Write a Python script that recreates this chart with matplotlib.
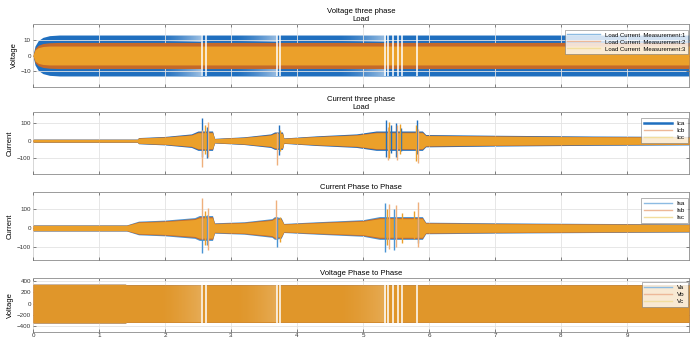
import numpy as np
import matplotlib
matplotlib.use("Agg")
import matplotlib.pyplot as plt
from matplotlib.lines import Line2D

# ---------------- data ----------------
# Panel 1: Voltage three phase / Load  -> envelope amplitudes of each measurement
v_load_t = [0.0, 0.03, 0.08, 0.15, 0.25, 0.4, 9.94]
v_load_m1 = [0.0, 6.0, 9.5, 11.5, 12.6, 13.0, 13.0]
v_load_m2 = [0.0, 4.5, 6.5, 7.6, 8.1, 8.3, 8.3]
v_load_m3 = [0.0, 3.5, 5.0, 5.7, 6.0, 6.0, 6.0]
gap_t = [2.556, 2.621, 3.69, 3.74, 5.33, 5.38, 5.46, 5.53, 5.59, 5.82]
# stretches where the blue trace thins out before the gaps (start, end)
fade_t0 = [1.90, 3.05, 4.60]
fade_t1 = [2.55, 3.69, 5.33]

# Panel 2: Current three phase / Load -> band envelope and transient spikes
i_load_t = [0, 1.58, 1.6, 2.0, 2.4, 2.5, 2.72, 2.75, 3.2, 3.6, 3.66, 3.78, 3.8,
            4.3, 4.9, 5.2, 5.9, 5.95, 7.0, 8.5, 9.94]
i_load_a = [8, 8, 16, 22, 35, 50, 50, 12, 20, 35, 45, 45, 14,
            25, 35, 50, 50, 32, 28, 24, 22]
ica_spk_t = [2.556, 2.63, 3.72, 5.35, 5.42, 5.50, 5.58, 5.82]
ica_spk_lo = [-92, -100, -83, -92, -70, -95, -60, -80]
ica_spk_hi = [129, 81, 91, 120, 90, 100, 75, 120]
icb_spk_t = [2.56, 2.656, 3.70, 5.38, 5.52, 5.84]
icb_spk_lo = [-150, -92, -140, -111, -111, -130]
icb_spk_hi = [60, 110, 50, 80, 90, 70]
icc_spk_t = [2.60, 3.74, 5.40, 5.56, 5.80]
icc_spk_lo = [-80, -60, -100, -80, -120]
icc_spk_hi = [90, 60, 110, 95, 90]

# Panel 3: Current Phase to Phase
i_pp_t = [0, 1.42, 1.6, 2.0, 2.45, 2.52, 2.72, 2.75, 3.2, 3.62, 3.66, 3.76, 3.8,
          4.3, 5.0, 5.25, 5.9, 5.95, 7.0, 8.5, 9.94]
i_pp_a = [15, 15, 33, 38, 50, 60, 60, 25, 30, 45, 55, 50, 22,
          30, 40, 55, 55, 28, 25, 22, 20]
isa_spk_t = [2.565, 2.64, 3.69, 5.33, 5.47, 5.84]
isa_spk_lo = [-133, -90, -100, -126, -117, -80]
isa_spk_hi = [60, 70, 60, 131, 100, 60]
isb_spk_t = [2.556, 2.657, 3.685, 5.40, 5.50, 5.84]
isb_spk_lo = [-60, -117, -60, -110, -100, -100]
isb_spk_hi = [158, 106, 149, 125, 122, 140]
isc_spk_t = [2.60, 3.74, 5.37, 5.59, 5.78]
isc_spk_lo = [-90, -73, -90, -80, -60]
isc_spk_hi = [90, 60, 100, 80, 90]

# Panel 4: Voltage Phase to Phase
v_pp_t = [0.0, 1.4, 1.42, 9.94]
v_pp_a = [340, 340, 330, 330]

x_ticks = [0, 1, 2, 3, 4, 5, 6, 7, 8, 9]
x_max = 9.94

# ---------------- styling ----------------
C_BLUE = "#1F6FBF"
C_RED = "#C4692A"
C_YEL = "#EBA02A"
C_PEACH = "#EFB07C"
C_LBLUE = "#4A94D4"
LEG_BLUE = "#8CBBE2"
LEG_ORG = "#EDB898"
LEG_YEL = "#F2DE9E"

plt.rcParams['font.family'] = ['Liberation Sans', 'DejaVu Sans']

fig = plt.figure(figsize=(6.9, 3.4), dpi=100)
W, H = 690.0, 340.0
left = 33 / W
width = 656 / W


def make_ax(top_px, bot_px):
    return fig.add_axes([left, 1 - bot_px / H, width, (bot_px - top_px) / H])


def style(ax, ylim, yticks, show_x=False):
    ax.set_xlim(0, x_max)
    ax.set_ylim(*ylim)
    ax.set_xticks(x_ticks)
    ax.set_yticks(yticks)
    ax.grid(True, color="#E3E3E3", lw=0.6)
    ax.set_axisbelow(False)
    ax.tick_params(direction="in", length=2.5, width=0.5, labelsize=4.5,
                   colors="#555555", labelcolor="#333333", top=True, right=True, pad=1.5)
    ax.tick_params(axis="x", pad=1.0)
    if not show_x:
        ax.tick_params(labelbottom=False)
    for s in ax.spines.values():
        s.set_color("#8A8A8A")
        s.set_linewidth(0.6)


def band(ax, t, a, scale, color, z):
    a = np.asarray(a, float) * scale
    ax.fill_between(t, -a, a, color=color, lw=0, zorder=z)


def white_ramp(ax, x0, x1, y0, y1, peak, z):
    ramp = np.linspace(0.0, 1.0, 64)[None, :] ** 1.5 * peak
    img = np.ones((1, 64, 4))
    img[..., 3] = ramp
    ax.imshow(img, extent=(x0, x1, y0, y1), aspect="auto", interpolation="bilinear",
              zorder=z)


def legend(ax, labels, colors, widths, top_off_px, ax_h_px, fs=4.5, handlelen=4.5):
    h = [Line2D([0], [0], color=c, lw=w) for c, w in zip(colors, widths)]
    lg = ax.legend(h, labels, loc="upper right", fontsize=fs, frameon=True,
                   fancybox=False, handlelength=handlelen, borderpad=0.4,
                   labelspacing=0.3, handletextpad=0.8, borderaxespad=0.0,
                   bbox_to_anchor=(1.0 - 1.5 / 656, 1.0 - top_off_px / ax_h_px))
    lg.get_frame().set_edgecolor("#7A7A7A")
    lg.get_frame().set_linewidth(0.5)
    lg.set_zorder(10)


# ---- Panel 1 ----
ax1 = make_ax(24, 87)
band(ax1, v_load_t, v_load_m1, 1.0, C_BLUE, 2)
for a0, a1 in zip(fade_t0, fade_t1):
    white_ramp(ax1, a0, a1, 8.3, 13.0, 0.55, 2.5)
    white_ramp(ax1, a0, a1, -13.0, -8.3, 0.55, 2.5)
band(ax1, v_load_t, v_load_m2, 1.0, C_RED, 3)
band(ax1, v_load_t, v_load_m3, 1.0, C_YEL, 4)
ax1.vlines(gap_t, -13.2, 13.2, color="white", lw=1.1, zorder=5)
style(ax1, (-20, 20), [-10, 0, 10])
ax1.set_ylabel("Voltage", fontsize=5.5, labelpad=2)
ax1.set_title("Voltage three phase\nLoad", fontsize=5.5, pad=2, linespacing=1.3)
legend(ax1, ["Load Current  Measurement:1", "Load Current  Measurement:2",
             "Load Current  Measurement:3"], [LEG_BLUE, LEG_ORG, LEG_YEL], [1, 1, 1],
       6, 63, fs=4.3, handlelen=5.5)

# ---- Panel 2 ----
ax2 = make_ax(112, 174)
band(ax2, i_load_t, i_load_a, 1.12, C_BLUE, 2)
band(ax2, i_load_t, i_load_a, 1.0, C_RED, 3)
band(ax2, i_load_t, i_load_a, 0.92, C_YEL, 4)
ax2.vlines(ica_spk_t, ica_spk_lo, ica_spk_hi, color=C_BLUE, lw=1.0, zorder=5)
ax2.vlines(icb_spk_t, icb_spk_lo, icb_spk_hi, color=C_PEACH, lw=1.0, zorder=5)
ax2.vlines(icc_spk_t, icc_spk_lo, icc_spk_hi, color=C_YEL, lw=1.0, zorder=5)
style(ax2, (-193, 166), [-100, 0, 100])
ax2.set_ylabel("Current", fontsize=5.5, labelpad=2)
ax2.set_title("Current three phase\nLoad", fontsize=5.5, pad=2, linespacing=1.3)
legend(ax2, ["Ica", "Icb", "Icc"], [C_BLUE, LEG_ORG, LEG_YEL], [1.8, 1, 1], 6, 62)

# ---- Panel 3 ----
ax3 = make_ax(192, 260)
band(ax3, i_pp_t, i_pp_a, 1.1, C_LBLUE, 2)
band(ax3, i_pp_t, i_pp_a, 1.0, C_RED, 3)
band(ax3, i_pp_t, i_pp_a, 0.9, C_YEL, 4)
ax3.vlines(isa_spk_t, isa_spk_lo, isa_spk_hi, color=C_LBLUE, lw=1.0, zorder=5)
ax3.vlines(isb_spk_t, isb_spk_lo, isb_spk_hi, color=C_PEACH, lw=1.0, zorder=5)
ax3.vlines(isc_spk_t, isc_spk_lo, isc_spk_hi, color=C_YEL, lw=1.0, zorder=5)
style(ax3, (-170, 191), [-100, 0, 100])
ax3.set_ylabel("Current", fontsize=5.5, labelpad=2)
ax3.set_title("Current Phase to Phase", fontsize=5.5, pad=2)
legend(ax3, ["Isa", "Isb", "Isc"], [LEG_BLUE, LEG_ORG, LEG_YEL], [1, 1, 1], 6, 68)

# ---- Panel 4 ----
ax4 = make_ax(278, 332)
band(ax4, v_pp_t, v_pp_a, 1.0, C_BLUE, 2)
band(ax4, v_pp_t, v_pp_a, 1.0, C_RED, 3)
band(ax4, v_pp_t, v_pp_a, 0.995, "#E0962A", 4)
for a0, a1 in zip(fade_t0, fade_t1):
    white_ramp(ax4, a0, a1, -330, 330, 0.2, 4.5)
ax4.vlines(gap_t, -335, 335, color="white", lw=1.1, zorder=5)
style(ax4, (-500, 450), [-400, -200, 0, 200, 400], show_x=True)
ax4.set_ylabel("Voltage", fontsize=5.5, labelpad=2)
ax4.set_title("Voltage Phase to Phase", fontsize=5.5, pad=2)
legend(ax4, ["Va", "Vb", "Vc"], [LEG_BLUE, LEG_ORG, LEG_YEL], [1, 1, 1], 4, 54)

fig.savefig("out.png", dpi=100)
